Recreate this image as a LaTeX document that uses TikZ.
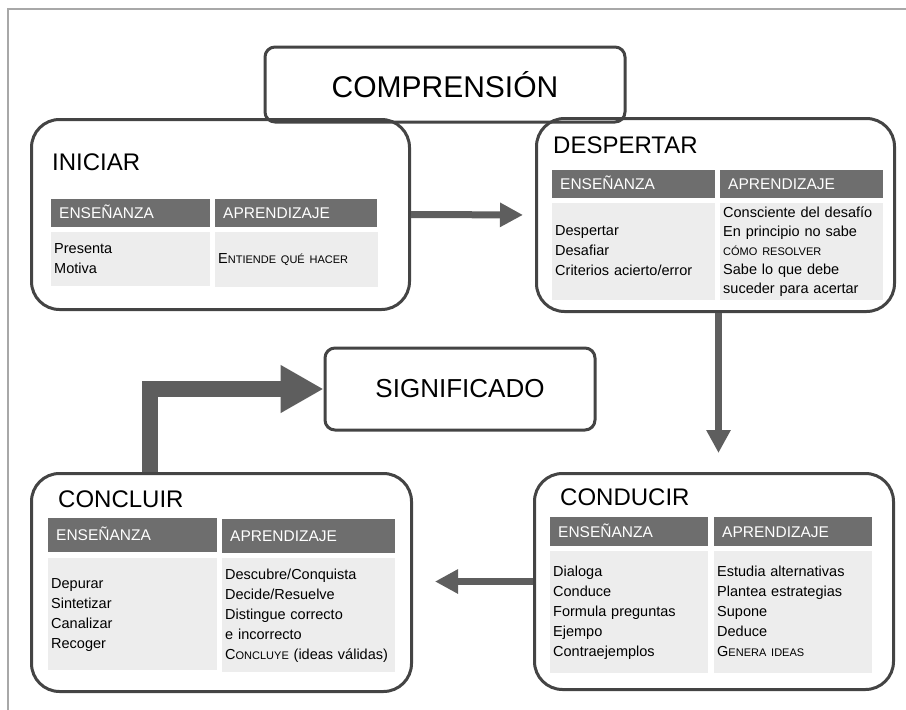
\documentclass[tikz,border=0pt]{standalone}
\usepackage{fontspec}
\setmainfont{Liberation Sans}
\usetikzlibrary{arrows.meta}

\definecolor{rim}{HTML}{444444}
\definecolor{headgray}{HTML}{6E6E6E}
\definecolor{cellgray}{HTML}{EDEDED}
\definecolor{arrowgray}{HTML}{5E5E5E}
\definecolor{framegray}{HTML}{A8A8A8}

\newcommand{\smcap}[1]{{\fontsize{11}{19}\selectfont #1}}

\tikzset{
  stage/.style={draw=rim, line width=3pt, rounded corners=28pt, anchor=north west, inner sep=0pt},
  tag/.style={draw=rim, line width=3pt, rounded corners=10pt, inner sep=0pt},
  stagetitle/.style={anchor=base west, inner sep=0pt, font=\fontsize{24}{28}\selectfont},
  headcell/.style={fill=headgray, text=white, anchor=north west, inner xsep=8pt, inner ysep=0pt,
    text height=11pt, text depth=0pt, align=left, font=\fontsize{15.5}{18}\selectfont},
  bodycell/.style={fill=cellgray, anchor=north west, inner xsep=3pt, inner ysep=0pt,
    align=left, font=\fontsize{14.5}{20}\selectfont,
    execute at begin node=\strut, execute at end node=\strut},
  flow/.style={draw=arrowgray, line width=7pt, -{Triangle[length=23pt,width=23pt]}},
  bigflow/.style={draw=arrowgray, line width=16pt, -{Triangle[length=43pt,width=45pt]}}
}

\begin{document}
\begin{tikzpicture}[x=1pt,y=-1pt]
  \useasboundingbox (0,0) rectangle (906,710);
  \draw[framegray, line width=1.2pt] (8,710) -- (8,9) -- (906,9);

  \node[tag, minimum width=360pt, minimum height=75pt, font=\fontsize{30}{34}\selectfont] (compr) at (445,84.5) {COMPRENSIÓN};
  \node[tag, minimum width=270pt, minimum height=82pt, font=\fontsize{26}{30}\selectfont] (signif) at (460,389) {SIGNIFICADO};

  \node[stage, minimum width=378pt, minimum height=190pt] (inic) at (30,118) {};
  \node[stagetitle] (inictit) at (52,170) {INICIAR};
  \node[headcell, text width=143pt, minimum height=28pt] (inicens) at (51,199) {ENSEÑANZA};
  \node[headcell, text width=146pt, minimum height=28pt] (inicapr) at (215,199) {APRENDIZAJE};
  \node[bodycell, text width=153pt, minimum height=54pt] (inicensb) at (51,232) {Presenta\\Motiva};
  \node[bodycell, text width=157pt, minimum height=55pt] (inicaprb) at (215,232) {E\smcap{NTIENDE QUÉ HACER}};

  \node[stage, minimum width=358pt, minimum height=193pt] (desp) at (535,117) {};
  \node[stagetitle] (desptit) at (553,153) {DESPERTAR};
  \node[headcell, text width=147pt, minimum height=28pt] (despens) at (552,170) {ENSEÑANZA};
  \node[headcell, text width=147pt, minimum height=28pt] (despapr) at (720,170) {APRENDIZAJE};
  \node[bodycell, text width=157pt, minimum height=97pt] (despensb) at (552,203) {Despertar\\Desafiar\\Criterios acierto/error};
  \node[bodycell, text width=157pt, minimum height=97pt, font=\fontsize{14.5}{19}\selectfont] (despaprb) at (720,203)
    {Consciente del desafío\\En principio no sabe\\\smcap{CÓMO RESOLVER}\\Sabe lo que debe\\suceder para acertar};

  \node[stage, minimum width=359pt, minimum height=216pt] (cond) at (533,472) {};
  \node[stagetitle] (condtit) at (560,505) {CONDUCIR};
  \node[headcell, text width=142pt, minimum height=29pt] (condens) at (550,517) {ENSEÑANZA};
  \node[headcell, text width=142pt, minimum height=29pt] (condapr) at (714,517) {APRENDIZAJE};
  \node[bodycell, text width=152pt, minimum height=122pt] (condensb) at (550,551)
    {Dialoga\\Conduce\\Formula preguntas\\Ejempo\\Contraejemplos};
  \node[bodycell, text width=152pt, minimum height=122pt] (condaprb) at (714,551)
    {Estudia alternativas\\Plantea estrategias\\Supone\\Deduce\\G\smcap{ENERA IDEAS}};

  \node[stage, minimum width=380pt, minimum height=218pt] (conc) at (30,472) {};
  \node[stagetitle] (conctit) at (58,507) {CONCLUIR};
  \node[headcell, text width=153pt, minimum height=34pt] (concens) at (48,518) {ENSEÑANZA};
  \node[headcell, text width=157pt, minimum height=34pt] (concapr) at (222,519) {APRENDIZAJE};
  \node[bodycell, text width=163pt, minimum height=112pt] (concensb) at (48,558)
    {Depurar\\Sintetizar\\Canalizar\\Recoger};
  \node[bodycell, text width=167pt, minimum height=114pt] (concaprb) at (222,558)
    {Descubre/Conquista\\Decide/Resuelve\\Distingue correcto\\e incorrecto\\C\smcap{ONCLUYE} (ideas válidas)};

  \draw[flow, shorten >=12pt] (inic.east) -- (desp.west);
  \draw[flow, shorten >=19pt] ([xshift=3pt]desp.south) -- ([xshift=3pt]desp.south |- cond.north);
  \draw[flow, shorten >=22pt] (cond.west) -- (conc.east |- cond.west);
  \draw[bigflow] ([xshift=120pt]conc.north west) |- (signif.west);
\end{tikzpicture}
\end{document}
